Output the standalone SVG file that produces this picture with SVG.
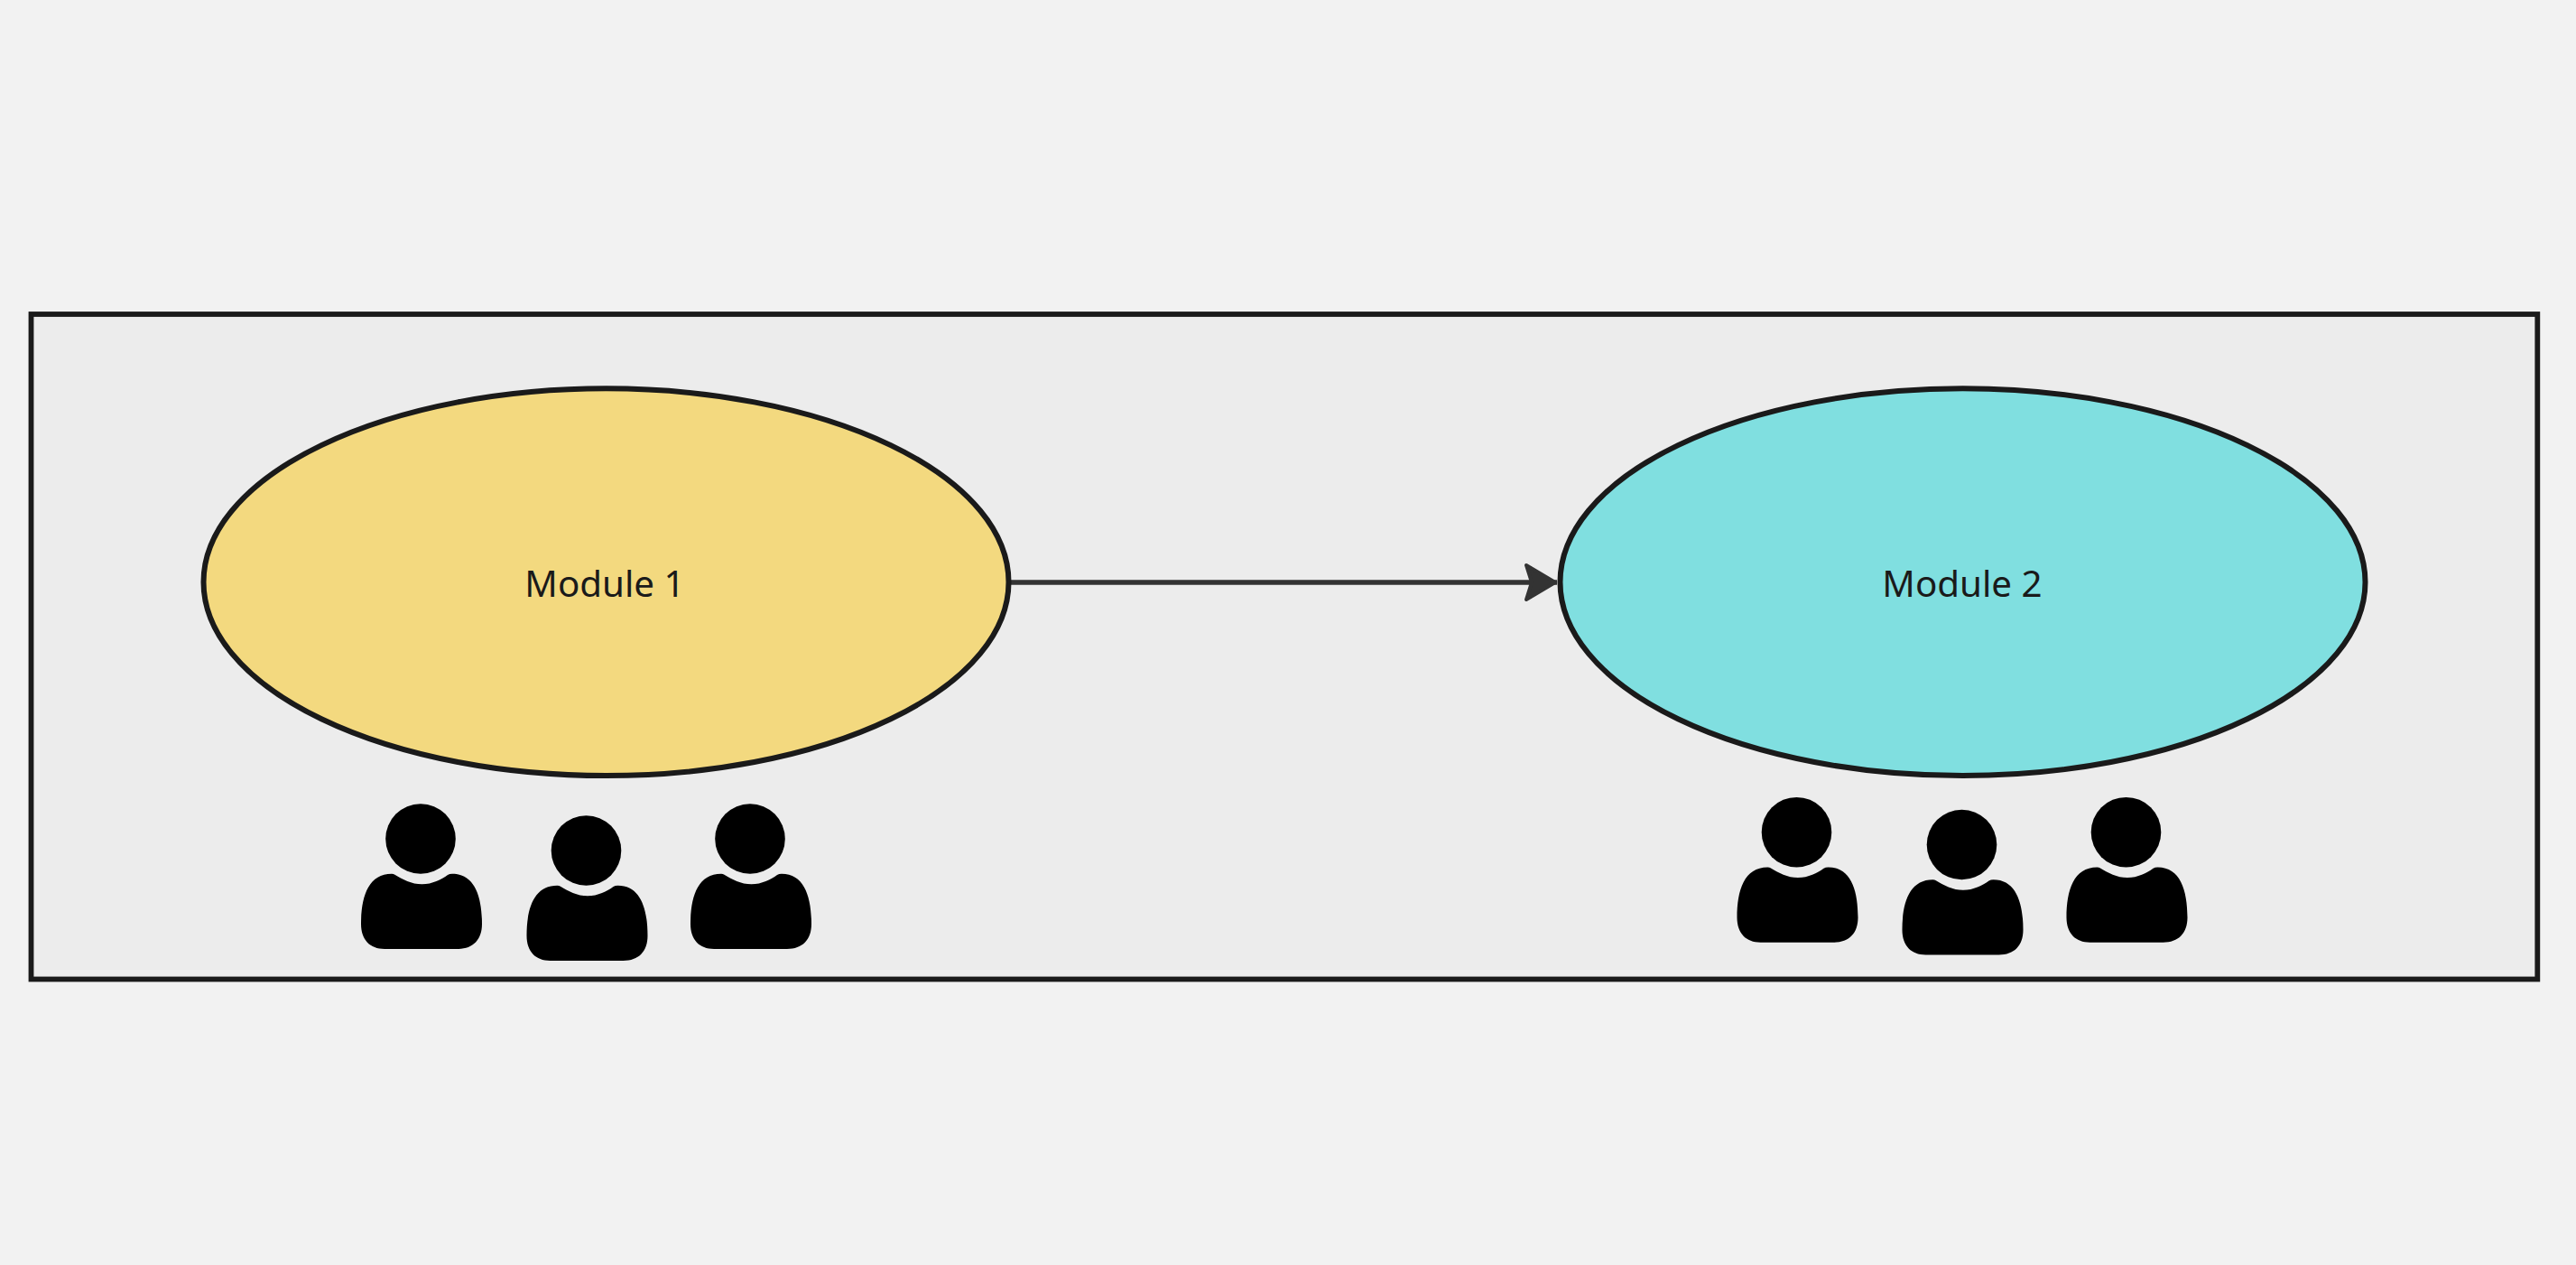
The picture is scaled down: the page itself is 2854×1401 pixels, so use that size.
<svg xmlns="http://www.w3.org/2000/svg" width="2854" height="1401" viewBox="0 0 2854 1401">
<style>
.frame{fill:#ececec;stroke:#1a1a1a;stroke-width:5.800}
.module{stroke:#1a1a1a;stroke-width:6}
.label{font-family:"Noto Sans","Open Sans",sans-serif;font-size:40.300px;fill:#1a1a1a;text-anchor:middle}
.edge{fill:none;stroke:#333;stroke-width:5.500}
</style>
<defs>
<marker id="arrow" markerUnits="userSpaceOnUse" markerWidth="50" markerHeight="60" refX="38" refY="25" orient="auto" overflow="visible">
<path d="M36 25 L4 6 L10 25 L4 44 Z" fill="#333" stroke="#333" stroke-width="4" stroke-linejoin="round"/>
</marker>
<g id="person">
<circle cx="0" cy="0" r="38.800"/>
<path d="M-29 39.500 C-20 45 -10 50.300 1.500 50.300 C13 50.300 23 45 30 40 Q32 38.700 35 38.700 C60 38.700 68 64 68 94.300 C68 112 58 122 41 122 L-40 122 C-56 122 -66 112 -66 94.300 C-66 64 -58 38.700 -32 38.700 Q-30 38.700 -29 39.500 Z"/>
</g>
</defs>
<rect width="2854" height="1401" fill="#f2f2f2"/>
<g id="frame"><rect class="frame" x="34.500" y="348" width="2776.800" height="736.500"/></g>
<g id="connectors"><path class="edge" d="M1118 645 H1725" marker-end="url(#arrow)"/></g>
<g id="module-1">
<ellipse class="module" cx="671.500" cy="644.700" rx="446" ry="214.400" fill="#f3d97f"/>
<text class="label" x="670" y="661">Module 1</text>
</g>
<g id="module-2">
<ellipse class="module" cx="2174.500" cy="644.700" rx="446" ry="214.400" fill="#80dfe0"/>
<text class="label" x="2174" y="661">Module 2</text>
</g>
<g id="person-1"><use href="#person" x="466" y="929"/></g>
<g id="person-2"><use href="#person" x="649.500" y="942"/></g>
<g id="person-3"><use href="#person" x="831" y="929"/></g>
<g id="person-4"><use href="#person" x="1990.500" y="921.700"/></g>
<g id="person-5"><use href="#person" x="2173.500" y="935.500"/></g>
<g id="person-6"><use href="#person" x="2355.500" y="921.700"/></g>
</svg>
